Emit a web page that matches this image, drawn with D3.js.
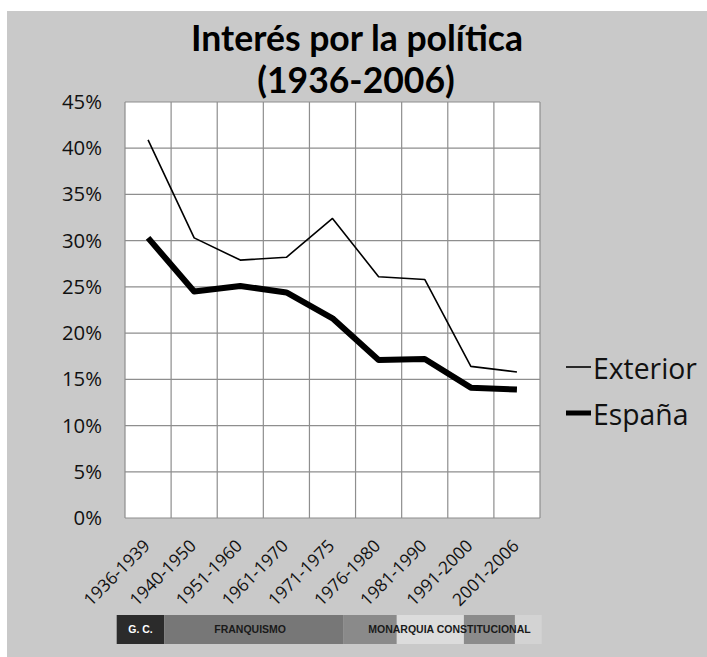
<!DOCTYPE html>
<html><head><meta charset="utf-8">
<script src="https://cdn.jsdelivr.net/npm/d3@7"></script>
<style>body{margin:0;background:#fff} svg{display:block}</style>
</head><body>
<svg id="c" width="707" height="657"></svg>
<script>
// ---- data ----
const periods = ["1936-1939","1940-1950","1951-1960","1961-1970","1971-1975","1976-1980","1981-1990","1991-2000","2001-2006"];
const exterior = [40.9, 30.3, 27.9, 28.2, 32.4, 26.1, 25.8, 16.4, 15.8];
const espana   = [30.3, 24.5, 25.1, 24.4, 21.6, 17.1, 17.2, 14.1, 13.9];
const yTicks = [0, 5, 10, 15, 20, 25, 30, 35, 40, 45];
const seriesNames = ["Exterior", "España"];
const titleLines = ["Interés por la política", "(1936-2006)"];
const eraStops = [0, 0.112, 0.534, 0.659, 0.817, 0.937, 1];
const eraLabels = ["G. C.", "FRANQUISMO", "MONARQUIA CONSTITUCIONAL"];
const eraLabelPos = [0.056, 0.314, 0.783];

// ---- styles ----
const FONT = "Lato, 'Open Sans', sans-serif";
const FONT2 = "'Open Sans', Lato, sans-serif";
const eraFills = ["#2b2b2b", "#777777", "#8a8a8a", "#dcdcdc", "#8b8b8b", "#d3d3d3"];
const eraTextFill = ["#ffffff", "#1a1a1a", "#1a1a1a"];
const gridColor = "#8e8e8e";

const svg = d3.select("#c");
svg.append("rect").attr("x", 7).attr("y", 11).attr("width", 700).attr("height", 646).attr("fill", "#c9c9c9");

function fit(sel, target) {
  const n = sel.node();
  const fs = parseFloat(sel.attr("font-size"));
  const w = n.getComputedTextLength();
  const ns = fs * target / w;
  sel.attr("font-size", ns);
  return ns;
}

const L = 125, R = 540, T = 102, B = 518;
const x = d3.scaleBand().domain(periods).range([L, R]).padding(0);
const y = d3.scaleLinear().domain([0, 45]).range([B, T]);

// plot background
svg.append("rect").attr("x", L).attr("y", T).attr("width", R - L).attr("height", B - T).attr("fill", "#fff");

// grid
const g = svg.append("g").attr("stroke", gridColor).attr("stroke-width", 1.2);
g.selectAll("line.h").data(yTicks).join("line").attr("class", "h")
  .attr("x1", L).attr("x2", R).attr("y1", d => y(d)).attr("y2", d => y(d));
g.selectAll("line.v").data(periods).join("line").attr("class", "v")
  .attr("x1", d => x(d)).attr("x2", d => x(d)).attr("y1", T).attr("y2", B);
g.append("line").attr("x1", R).attr("x2", R).attr("y1", T).attr("y2", B);

// y axis
const yAx = svg.append("g").attr("transform", `translate(${L},0)`)
  .call(d3.axisLeft(y).tickValues(yTicks).tickFormat(d => d + "%").tickSize(0).tickPadding(23));
yAx.select(".domain").remove();
yAx.selectAll("text").attr("font-family", FONT2).attr("font-size", 20).attr("fill", "#111");
const ySize = fit(yAx.selectAll("text").filter(d => d === 45), 40);
yAx.selectAll("text").attr("font-size", ySize);

// x axis
const xAx = svg.append("g").attr("transform", `translate(0,${B})`)
  .call(d3.axisBottom(x).tickSize(0));
xAx.select(".domain").remove();
xAx.selectAll("text").attr("font-family", FONT2).attr("font-size", 17).attr("fill", "#111")
  .attr("text-anchor", "end").attr("y", 0).attr("dy", 0)
  .attr("transform", "translate(3,29) rotate(-45)");
const xSize = fit(xAx.selectAll("text").filter(d => d === "1940-1950"), 85);
xAx.selectAll("text").attr("font-size", xSize);

// lines
const line = d3.line().x((d, i) => x(periods[i]) + x.bandwidth() / 2).y(d => y(d));
svg.append("path").datum(exterior).attr("d", line).attr("fill", "none")
  .attr("stroke", "#000").attr("stroke-width", 1.6).attr("stroke-linejoin", "round");
svg.append("path").datum(espana).attr("d", line).attr("fill", "none")
  .attr("stroke", "#000").attr("stroke-width", 6).attr("stroke-linejoin", "round");

// title
const t1 = svg.append("text").attr("x", 357).attr("y", 51).attr("text-anchor", "middle")
  .attr("font-family", FONT).attr("font-weight", "bold").attr("font-size", 36).attr("fill", "#000")
  .text(titleLines[0]);
const tSize = fit(t1, 332);
svg.append("text").attr("x", 356).attr("y", 93).attr("text-anchor", "middle")
  .attr("font-family", FONT).attr("font-weight", "bold").attr("font-size", tSize).attr("fill", "#000")
  .text(titleLines[1]);

// legend
const legY = [379, 425];
const legW = [1.6, 5];
const lg = svg.append("g");
seriesNames.forEach((name, i) => {
  lg.append("line").attr("x1", 566).attr("x2", 591).attr("y1", legY[i] - 12).attr("y2", legY[i] - 12)
    .attr("stroke", "#000").attr("stroke-width", legW[i]);
  lg.append("text").attr("x", 593).attr("y", legY[i]).attr("font-family", FONT2)
    .attr("font-size", 28).attr("fill", "#111").text(name).attr("class", "leg");
});
const lSize = fit(lg.selectAll("text.leg").filter((d, i) => i === 0), 104);
lg.selectAll("text.leg").attr("font-size", lSize);

// era bar
const eb = d3.scaleLinear().domain([0, 1]).range([116.7, 541.7]);
const barY = 615, barH = 29;
const eg = svg.append("g");
eg.selectAll("rect").data(eraFills).join("rect")
  .attr("x", (d, i) => eb(eraStops[i])).attr("width", (d, i) => eb(eraStops[i + 1]) - eb(eraStops[i]))
  .attr("y", barY).attr("height", barH).attr("fill", d => d);
eg.selectAll("text").data(eraLabels).join("text")
  .attr("x", (d, i) => eb(eraLabelPos[i])).attr("y", barY + barH / 2).attr("dy", "0.36em")
  .attr("text-anchor", "middle").attr("font-family", "'Liberation Sans', Arial, sans-serif")
  .attr("font-weight", "bold").attr("font-size", 10.5).attr("fill", (d, i) => eraTextFill[i])
  .text(d => d);
</script>
</body></html>
